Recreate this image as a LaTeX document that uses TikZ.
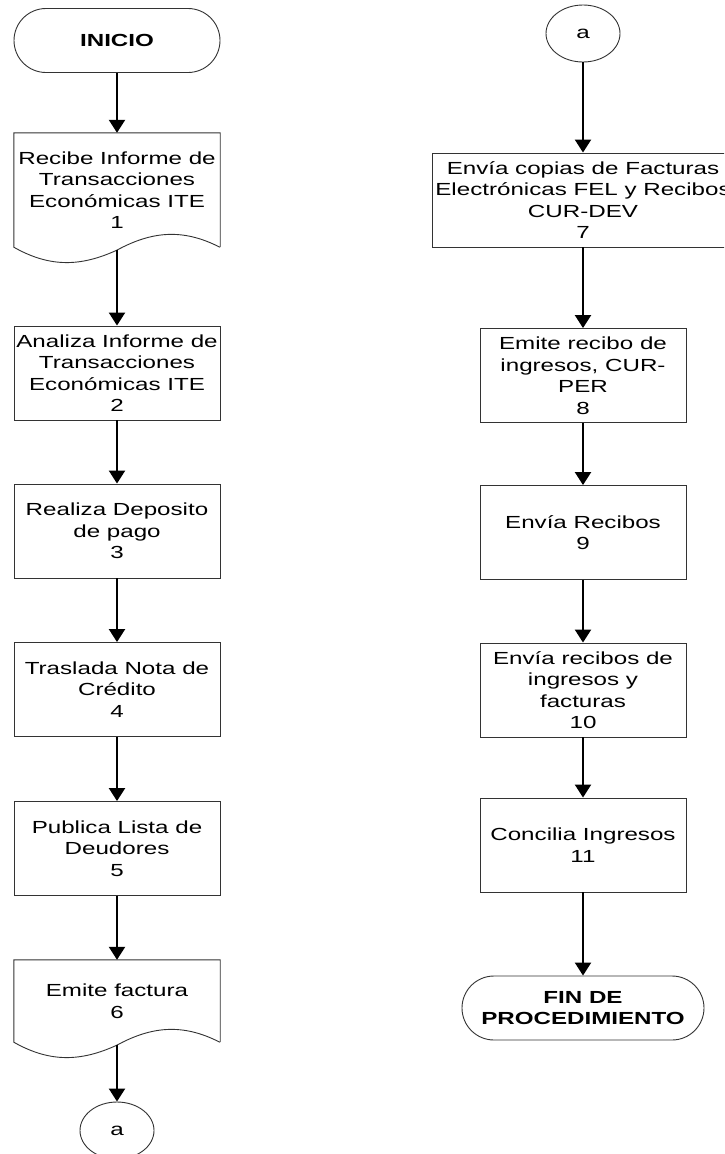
\documentclass[tikz,border=0pt]{standalone}
\usepackage{fontspec}
\setmainfont{Liberation Sans}[FakeStretch=1.38]
\usetikzlibrary{arrows.meta,shapes.geometric,shapes.misc}
\begin{document}
\begin{tikzpicture}[x=1pt,y=1pt,
  every node/.style={font=\fontsize{17.5}{21.5}\selectfont, align=center, inner sep=0pt},
  boxline/.style={draw=black!80, line width=0.9pt},
  procbox/.style={rectangle, boxline, minimum width=206pt, minimum height=94pt},
  docbox/.style={rectangle, minimum width=206pt},
  termbox/.style={rounded rectangle, boxline, minimum width=206pt, minimum height=64pt, font=\fontsize{17.5}{21}\selectfont\bfseries},
  connbox/.style={ellipse, boxline, minimum width=74pt, minimum height=57pt},
  arr/.style={line width=2.2pt, -{Triangle[width=16pt,length=13pt]}}
]
\useasboundingbox (0,0) rectangle (724,-1154);
\clip (0,0) rectangle (724,-1154);
\fill[white] (0,0) rectangle (724,-1154);

\newcommand{\docwave}[1]{%
  \draw[boxline] (#1.south east) -- (#1.north east) -- (#1.north west) -- (#1.south west)
    .. controls +(37,-21) and +(-35,-16) .. ++(103,-3)
    .. controls +(35,19) and +(-37,19) .. ++(103,3);}

% left column
\node[termbox] (ini) at (117,-40.5) {INICIO};
\node[docbox, minimum height=114pt] (d1) at (117,-190) {Recibe Informe de\\Transacciones\\Económicas ITE\\1};
\docwave{d1}
\node[procbox] (b2) at (117,-373) {Analiza Informe de\\Transacciones\\Económicas ITE\\2};
\node[procbox] (b3) at (117,-531) {Realiza Deposito\\de pago\\3};
\node[procbox] (b4) at (117,-689.5) {Traslada Nota de\\Crédito\\4};
\node[procbox] (b5) at (117,-848.5) {Publica Lista de\\Deudores\\5};
\node[docbox, minimum height=82pt] (d6) at (117,-1001) {Emite factura\\6};
\docwave{d6}
\node[connbox] (a1) at (117,-1130.5) {a};

% right column
\node[connbox] (a2) at (583,-33.5) {a};
\node[procbox, minimum width=302pt] (b7) at (583,-200) {Envía copias de Facturas\\Electrónicas FEL y Recibos\\CUR-DEV\\7};
\node[procbox] (b8) at (583,-375.5) {Emite recibo de\\ingresos, CUR-\\PER\\8};
\node[procbox] (b9) at (583,-532.5) {Envía Recibos\\9};
\node[procbox] (b10) at (583,-690) {Envía recibos de\\ingresos y\\facturas\\10};
\node[procbox] (b11) at (583,-845) {Concilia Ingresos\\11};
\node[termbox, minimum width=242pt] (fin) at (583,-1008) {FIN DE\\PROCEDIMIENTO};

% connectors
\draw[arr] (ini.south) -- (d1.north);
\draw[arr] ([yshift=-3pt]d1.south) -- (b2.north);
\draw[arr] (b2.south) -- (b3.north);
\draw[arr] (b3.south) -- (b4.north);
\draw[arr] (b4.south) -- (b5.north);
\draw[arr] (b5.south) -- (d6.north);
\draw[arr] ([yshift=-3pt]d6.south) -- (a1.north);

\draw[arr] (a2.south) -- (b7.north);
\draw[arr] (b7.south) -- (b8.north);
\draw[arr] (b8.south) -- (b9.north);
\draw[arr] (b9.south) -- (b10.north);
\draw[arr] (b10.south) -- (b11.north);
\draw[arr] (b11.south) -- (fin.north);
\end{tikzpicture}
\end{document}
